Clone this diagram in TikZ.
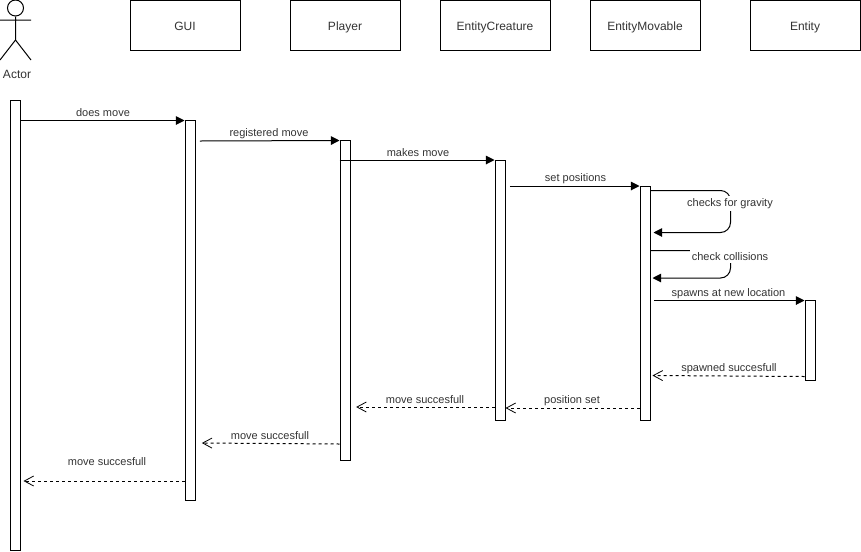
\documentclass[tikz,border=0pt]{standalone}
\usepackage{fontspec}
\setmainfont{Liberation Sans}
\usetikzlibrary{arrows.meta}
\tikzset{
  px/.style={x=0.75pt,y=-0.75pt},
  headbox/.style={draw,line width=0.75pt,minimum width=82.5pt,minimum height=37.5pt,inner sep=0pt,text height=9.5pt,text depth=2pt,font=\fontsize{9}{11}\selectfont,text=black!80},
  actbar/.style={draw,fill=white,line width=0.75pt,minimum width=7.5pt,inner sep=0pt},
  msg/.style={line width=0.75pt,-{Triangle[length=6.5pt,width=6.5pt]}},
  reply/.style={line width=0.75pt,dash pattern=on 2.25pt off 2.25pt,-{Straight Barb[length=7pt,width=7.5pt,line width=0.6pt]}},
  lbl/.style={font=\fontsize{8.25}{10}\selectfont,text=black!80,inner sep=1pt,yshift=-0.4pt},
  wlbl/.style={lbl,fill=white,inner ysep=1.8pt},
  looppath/.style={rounded corners=7.5pt}
}
\begin{document}
\begin{tikzpicture}[px]
\useasboundingbox (0,0) rectangle (861,551);
% headers
\node[headbox] (hgui) at (185,25) {GUI};
\node[headbox] (hplayer) at (345,25) {Player};
\node[headbox] (hcreature) at (495,25) {EntityCreature};
\node[headbox] (hmovable) at (645,25) {EntityMovable};
\node[headbox] (hentity) at (805,25) {Entity};
% actor
\node[draw,circle,line width=0.75pt,minimum size=12pt,inner sep=0pt] (head) at (15.5,8) {};
\coordinate (hip) at (15.5,40);
\coordinate (armL) at (0,20);
\coordinate (armR) at (31,20);
\coordinate (legL) at (0,60);
\coordinate (legR) at (31,60);
\draw[line width=0.75pt] (head.south) -- (hip) (armL) -- (armR) (legL) -- (hip) -- (legR);
\node[font=\fontsize{9}{11}\selectfont,text=black!80,inner sep=0pt] (actorlabel) at (17,74.5) {Actor};
% activation bars
\node[actbar,minimum height=337.5pt] (bA) at (15,325) {};
\node[actbar,minimum height=285pt] (bG) at (190,310) {};
\node[actbar,minimum height=240pt] (bP) at (345,300) {};
\node[actbar,minimum height=195pt] (bC) at (500,290) {};
\node[actbar,minimum height=175.5pt] (bM) at (645,303) {};
\node[actbar,minimum height=60pt] (bE) at (810,340) {};
% calls
\draw[msg] (bA.east |- 0,120.5) -- (bG.west |- 0,120.5);
\node[lbl] (l1) at (103,112) {does move};
\draw[msg] ([xshift=3.25pt]bG.east |- 0,141) -- (bP.west |- 0,140.5);
\node[lbl] (l2) at (269,133) {registered move};
\draw[msg] (bP.west |- 0,160) -- (bC.west |- 0,160);
\node[lbl] (l3) at (418,152) {makes move};
\draw[msg] ([xshift=3.25pt]bC.east |- 0,186) -- (bM.west |- 0,186);
\node[lbl] (l4) at (575.5,178) {set positions};
% self loops
\draw[msg,looppath] (bM.east |- 0,190.5) -- (730.5,190.5) -- (730.5,232.5) -- ([xshift=2.25pt]bM.east |- 0,232.5);
\node[wlbl] (l5) at (730,203) {checks for gravity};
\draw[msg,looppath] (bM.east |- 0,250.5) -- (730.5,250.5) -- (730.5,278) -- ([xshift=1.5pt]bM.east |- 0,278);
\node[wlbl] (l6) at (730,256) {check collisions};
\draw[msg] ([xshift=2.5pt]bM.east |- 0,300.5) -- (bE.west |- 0,300.5);
\node[lbl] (l7) at (728.5,293) {spawns at new location};
% replies
\draw[reply] (bE.west |- 0,376.5) -- ([xshift=1.5pt]bM.east |- 0,375.5);
\node[lbl] (l8) at (729,368) {spawned succesfull};
\draw[reply] (bM.west |- 0,408) -- (bC.east |- 0,408);
\node[lbl] (l9) at (572,400) {position set};
\draw[reply] (bC.west |- 0,407) -- ([xshift=4.25pt]bP.east |- 0,407);
\node[lbl] (l10) at (425,399) {move succesfull};
\draw[reply] (bP.west |- 0,444) -- ([xshift=4.75pt]bG.east |- 0,443);
\node[lbl] (l11) at (270,435) {move succesfull};
\draw[reply] (bG.west |- 0,481) -- ([xshift=2.25pt]bA.east |- 0,481);
\node[lbl] (l12) at (107,461) {move succesfull};
\end{tikzpicture}
\end{document}
